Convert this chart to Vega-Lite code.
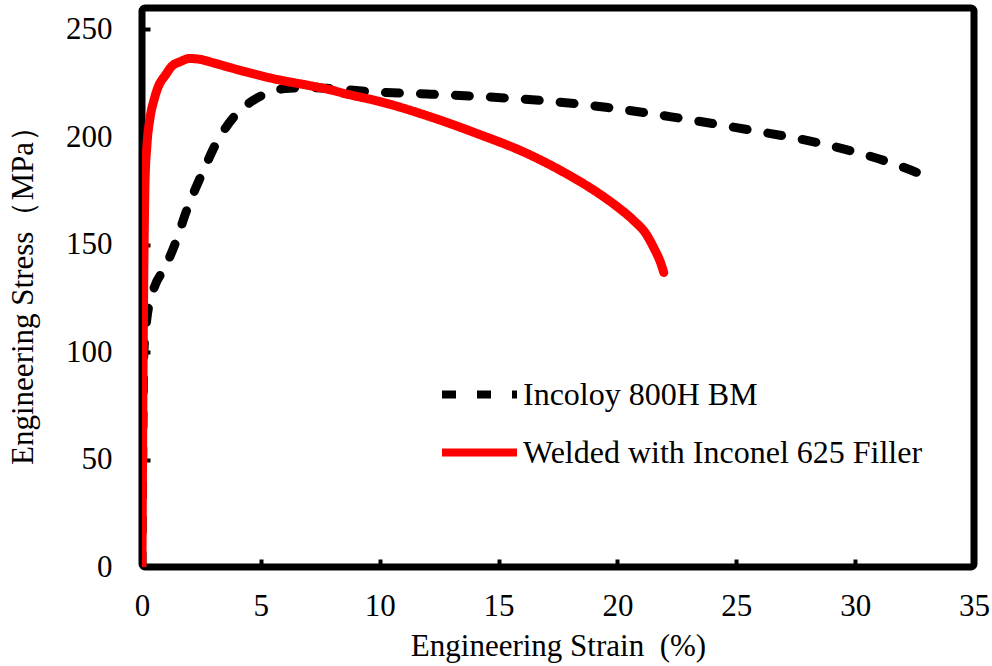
{
  "$schema": "https://vega.github.io/schema/vega-lite/v6.json",
  "width": 832,
  "height": 559,
  "autosize": {"type": "none"},
  "padding": {"left": 142, "top": 8, "right": 18, "bottom": 99},
  "background": "white",
  "config": {
    "view": {"stroke": "black", "strokeWidth": 7, "cornerRadius": 3},
    "axis": {
      "domain": false,
      "grid": false,
      "labelFont": "Liberation Serif",
      "labelFontSize": 31,
      "labelColor": "black",
      "labelFlush": false,
      "labelLimit": 0,
      "titleFont": "Liberation Serif",
      "titleFontSize": 31,
      "titleFontWeight": "normal",
      "titleColor": "black",
      "titleLimit": 0,
      "tickColor": "black",
      "tickWidth": 4,
      "tickSize": -8
    },
    "legend": {
      "labelFont": "Liberation Serif",
      "labelFontSize": 32,
      "labelColor": "black",
      "labelLimit": 0
    }
  },
  "data": {
    "values": [
      {"series": "Incoloy 800H BM", "strain": 0, "stress": 0},
      {"series": "Incoloy 800H BM", "strain": 0.08, "stress": 100},
      {"series": "Incoloy 800H BM", "strain": 0.2, "stress": 115},
      {"series": "Incoloy 800H BM", "strain": 0.46, "stress": 128},
      {"series": "Incoloy 800H BM", "strain": 1.0, "stress": 140},
      {"series": "Incoloy 800H BM", "strain": 1.45, "stress": 152},
      {"series": "Incoloy 800H BM", "strain": 1.85, "stress": 165},
      {"series": "Incoloy 800H BM", "strain": 2.25, "stress": 176},
      {"series": "Incoloy 800H BM", "strain": 2.65, "stress": 186},
      {"series": "Incoloy 800H BM", "strain": 3.07, "stress": 196},
      {"series": "Incoloy 800H BM", "strain": 3.5, "stress": 204},
      {"series": "Incoloy 800H BM", "strain": 4.0, "stress": 211},
      {"series": "Incoloy 800H BM", "strain": 4.6, "stress": 216.5},
      {"series": "Incoloy 800H BM", "strain": 5.3, "stress": 220.5},
      {"series": "Incoloy 800H BM", "strain": 6.0, "stress": 222.5},
      {"series": "Incoloy 800H BM", "strain": 7.0, "stress": 223},
      {"series": "Incoloy 800H BM", "strain": 8.0, "stress": 222.5},
      {"series": "Incoloy 800H BM", "strain": 9.7, "stress": 221},
      {"series": "Incoloy 800H BM", "strain": 12.0, "stress": 220},
      {"series": "Incoloy 800H BM", "strain": 15.5, "stress": 218},
      {"series": "Incoloy 800H BM", "strain": 17.5, "stress": 216.3},
      {"series": "Incoloy 800H BM", "strain": 19.6, "stress": 213.7},
      {"series": "Incoloy 800H BM", "strain": 21.1, "stress": 211.4},
      {"series": "Incoloy 800H BM", "strain": 22.2, "stress": 209.5},
      {"series": "Incoloy 800H BM", "strain": 25.5, "stress": 203.4},
      {"series": "Incoloy 800H BM", "strain": 28.4, "stress": 197.4},
      {"series": "Incoloy 800H BM", "strain": 30.0, "stress": 193},
      {"series": "Incoloy 800H BM", "strain": 31.5, "stress": 188},
      {"series": "Incoloy 800H BM", "strain": 32.8, "stress": 182.5},
      {"series": "Incoloy 800H BM", "strain": 33.0, "stress": 181.5},
      {"series": "Welded with Inconel 625 Filler", "strain": 0, "stress": 0},
      {"series": "Welded with Inconel 625 Filler", "strain": 0.05, "stress": 100},
      {"series": "Welded with Inconel 625 Filler", "strain": 0.1, "stress": 160},
      {"series": "Welded with Inconel 625 Filler", "strain": 0.13, "stress": 180},
      {"series": "Welded with Inconel 625 Filler", "strain": 0.2, "stress": 195},
      {"series": "Welded with Inconel 625 Filler", "strain": 0.34, "stress": 209},
      {"series": "Welded with Inconel 625 Filler", "strain": 0.5, "stress": 217},
      {"series": "Welded with Inconel 625 Filler", "strain": 0.67, "stress": 223},
      {"series": "Welded with Inconel 625 Filler", "strain": 1.0, "stress": 229},
      {"series": "Welded with Inconel 625 Filler", "strain": 1.26, "stress": 233},
      {"series": "Welded with Inconel 625 Filler", "strain": 1.6, "stress": 235},
      {"series": "Welded with Inconel 625 Filler", "strain": 2.0, "stress": 236.5},
      {"series": "Welded with Inconel 625 Filler", "strain": 2.5, "stress": 236},
      {"series": "Welded with Inconel 625 Filler", "strain": 3.0, "stress": 234.5},
      {"series": "Welded with Inconel 625 Filler", "strain": 3.8, "stress": 232},
      {"series": "Welded with Inconel 625 Filler", "strain": 5.0, "stress": 228.5},
      {"series": "Welded with Inconel 625 Filler", "strain": 5.7, "stress": 226.7},
      {"series": "Welded with Inconel 625 Filler", "strain": 7.0, "stress": 224},
      {"series": "Welded with Inconel 625 Filler", "strain": 7.9, "stress": 222},
      {"series": "Welded with Inconel 625 Filler", "strain": 8.6, "stress": 220},
      {"series": "Welded with Inconel 625 Filler", "strain": 10.0, "stress": 216.5},
      {"series": "Welded with Inconel 625 Filler", "strain": 12.1, "stress": 209.5},
      {"series": "Welded with Inconel 625 Filler", "strain": 14.0, "stress": 202},
      {"series": "Welded with Inconel 625 Filler", "strain": 16.3, "stress": 191.8},
      {"series": "Welded with Inconel 625 Filler", "strain": 18.0, "stress": 182},
      {"series": "Welded with Inconel 625 Filler", "strain": 19.1, "stress": 174.6},
      {"series": "Welded with Inconel 625 Filler", "strain": 20.0, "stress": 167.5},
      {"series": "Welded with Inconel 625 Filler", "strain": 20.7, "stress": 161},
      {"series": "Welded with Inconel 625 Filler", "strain": 21.2, "stress": 155},
      {"series": "Welded with Inconel 625 Filler", "strain": 21.55, "stress": 148},
      {"series": "Welded with Inconel 625 Filler", "strain": 21.8, "stress": 142},
      {"series": "Welded with Inconel 625 Filler", "strain": 21.95, "stress": 137}
    ]
  },
  "mark": {"type": "line", "strokeWidth": 9, "strokeCap": "round", "strokeJoin": "round", "interpolate": "monotone", "clip": true},
  "encoding": {
    "x": {
      "field": "strain",
      "type": "quantitative",
      "scale": {"domain": [0, 35], "nice": false, "zero": false},
      "axis": {"values": [0, 5, 10, 15, 20, 25, 30, 35], "title": "Engineering Strain\u00a0\u00a0(%)", "labelPadding": 32, "titlePadding": 10}
    },
    "y": {
      "field": "stress",
      "type": "quantitative",
      "scale": {"domain": [0, 260], "nice": false},
      "axis": {"values": [0, 50, 100, 150, 200, 250], "title": "Engineering Stress（MPa）", "labelPadding": 38, "titlePadding": 26}
    },
    "color": {
      "field": "series",
      "type": "nominal",
      "scale": {"domain": ["Incoloy 800H BM", "Welded with Inconel 625 Filler"], "range": ["black", "#ff0000"]},
      "legend": {
        "title": null,
        "orient": "none",
        "legendX": 296,
        "legendY": 345,
        "symbolType": "stroke",
        "symbolSize": 5625,
        "symbolStrokeWidth": 8,
        "rowPadding": 0,
        "labelOffset": 2
      }
    },
    "strokeDash": {
      "field": "series",
      "type": "nominal",
      "scale": {"domain": ["Incoloy 800H BM", "Welded with Inconel 625 Filler"], "range": [[14, 21], [1, 0]]},
      "legend": null
    }
  }
}
